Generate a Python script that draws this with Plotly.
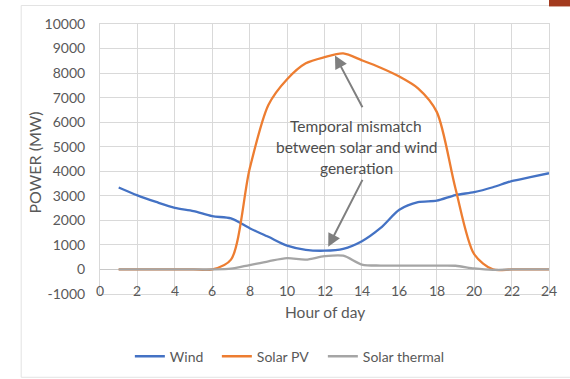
import plotly.graph_objects as go

# Hourly generation profile (MW)
hours = list(range(1, 25))
wind = [3340, 3020, 2750, 2510, 2380, 2170, 2080, 1680, 1330, 970, 800, 765,
        840, 1150, 1690, 2430, 2740, 2800, 3030, 3150, 3350, 3600, 3760, 3920]
solar_pv = [0, 0, 0, 0, 0, 0, 400, 4100, 6700, 7750, 8400, 8650,
            8800, 8520, 8220, 7860, 7380, 6420, 3300, 620, 0, 0, 0, 0]
solar_thermal = [0, 0, 0, 0, 0, 0, 30, 180, 330, 460, 400, 540,
                 560, 200, 160, 155, 155, 155, 150, 40, -20, 0, 0, 0]

series = [("Wind", wind, "#4472C4", 42),
          ("Solar PV", solar_pv, "#ED7D31", 61),
          ("Solar thermal", solar_thermal, "#A5A5A5", 90)]

x_ticks = list(range(0, 25, 2))
y_ticks = list(range(-1000, 10001, 1000))

note_lines = ["Temporal mismatch", "between solar and wind", "generation"]

FONT = "Lato"
TXT = "#595959"
GRID = "#d9d9d9"

fig = go.Figure()
for name, vals, col, lw in series:
    fig.add_trace(go.Scatter(x=hours, y=vals, name=name, mode="lines",
                             legendwidth=lw,
                             line=dict(color=col, width=2.3, shape="spline",
                                       smoothing=0.8)))

fig.update_layout(
    width=570, height=379,
    margin=dict(l=100, r=21, t=23.5, b=85.4, autoexpand=False),
    paper_bgcolor="white", plot_bgcolor="white",
    font=dict(family=FONT, size=14, color=TXT),
    showlegend=True,
    legend=dict(orientation="h", x=0.0665, xanchor="left", y=-0.232,
                yanchor="middle", font=dict(size=14, color=TXT),
                itemwidth=30, tracegroupgap=0, bgcolor="rgba(0,0,0,0)"),
)

fig.update_xaxes(range=[0, 24], tickvals=x_ticks, showticklabels=False,
                 showgrid=True, gridcolor=GRID, gridwidth=1,
                 zeroline=False, showline=True, linecolor=GRID,
                 mirror=True, ticks="")
fig.update_yaxes(range=[-1000, 10000], tickvals=y_ticks,
                 ticktext=[str(v) for v in y_ticks],
                 showgrid=True, gridcolor=GRID, gridwidth=1,
                 zeroline=True, zerolinecolor="#c8c8c8", zerolinewidth=1,
                 showline=True, linecolor=GRID, mirror=True, ticks="",
                 ticklabelstandoff=11, tickfont=dict(size=14, color=TXT))

# x tick labels sit on the bottom gridline
for t in x_ticks:
    fig.add_annotation(x=t, y=-1000, xref="x", yref="y", text=str(t),
                       showarrow=False, yanchor="middle", xanchor="center",
                       yshift=4, font=dict(size=14, color=TXT))

# axis titles
fig.add_annotation(x=0.5, y=0, xref="paper", yref="paper", text="Hour of day",
                   showarrow=False, yanchor="middle", yshift=-17.5,
                   font=dict(size=15.5, color=TXT))
fig.add_annotation(x=0, y=0.487, xref="paper", yref="paper", text="POWER (MW)",
                   showarrow=False, textangle=-90, xanchor="center",
                   yanchor="middle", xshift=-65, font=dict(size=16, color=TXT))

# callout text
for i, line in enumerate(note_lines):
    fig.add_annotation(x=13.7, y=5850 - i * 850, xref="x", yref="y", text=line,
                       showarrow=False, xanchor="center", yanchor="middle",
                       font=dict(size=15.5, color="#4d4d4d"))

# callout arrows
ARROW = "#7f7f7f"
fig.add_annotation(x=12.56, y=8720, ax=14.07, ay=6550, xref="x", yref="y",
                   axref="x", ayref="y", text="", showarrow=True,
                   arrowhead=2, arrowsize=1.3, arrowwidth=2, arrowcolor=ARROW)
fig.add_annotation(x=12.2, y=925, ax=14.07, ay=3710, xref="x", yref="y",
                   axref="x", ayref="y", text="", showarrow=True,
                   arrowhead=2, arrowsize=1.3, arrowwidth=2, arrowcolor=ARROW)

# chart frame
fig.add_shape(type="rect", xref="paper", yref="paper",
              x0=-0.1755, x1=1.2, y0=-0.3085, y1=1.0685,
              line=dict(color="#e3e3e3", width=1), layer="below")
fig.add_shape(type="rect", xref="paper", yref="paper",
              x0=1.0, x1=1.05, y0=1.065, y1=1.09,
              fillcolor="#a33a1e", line=dict(width=0))

fig.write_html("out.html")
